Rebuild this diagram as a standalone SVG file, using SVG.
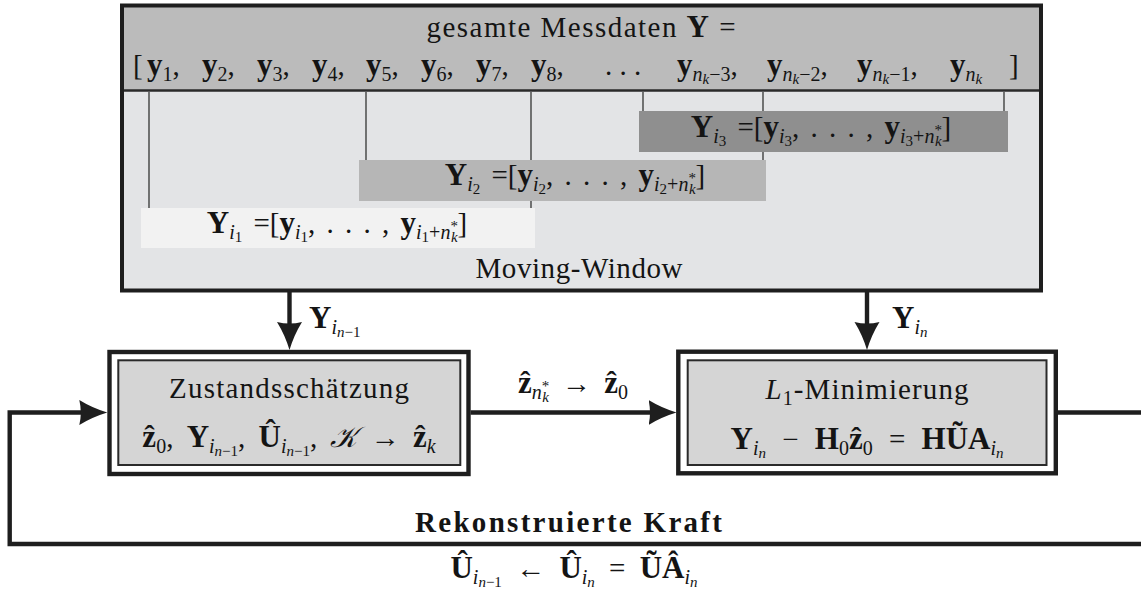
<svg xmlns="http://www.w3.org/2000/svg" width="1141" height="601" viewBox="0 0 1141 601">
<style>
.tx{font-family:"Liberation Serif","Times New Roman",serif;font-size:29px;fill:#141414}
.bf{font-weight:bold;font-size:31px}
.it{font-style:italic}
.sb{font-size:20px;baseline-shift:-6px}
.ss{font-size:15px;baseline-shift:-3px}
.sup{font-size:15px;baseline-shift:8px}
.ws4{word-spacing:4px}
.ws6{word-spacing:6px}
.frame{fill:none;stroke:#1e1e1e;stroke-width:4}
.tick{stroke:#333;stroke-width:1.3}
.outer{fill:#fff;stroke:#1e1e1e;stroke-width:4.4}
.inner{fill:#d5d5d5;stroke:#2a2a2a;stroke-width:2}
.conn{fill:none;stroke:#1e1e1e;stroke-width:4.4;stroke-linejoin:miter}
</style>
<defs>
<marker id="ah" markerUnits="userSpaceOnUse" markerWidth="30" markerHeight="28" viewBox="0 -14 30 28" refX="8" refY="0" orient="auto"><path d="M28,0 Q13,-4.5 0,-12.5 Q3,0 0,12.5 Q13,4.5 28,0Z" fill="#1e1e1e"/></marker>
</defs>

<g id="messdaten">
<rect x="122" y="5.5" width="919" height="285" fill="#e3e4e6"/>
<rect x="122" y="5.5" width="919" height="85" fill="#bbbbbb"/>
<line x1="122" y1="90.5" x2="1041" y2="90.5" stroke="#2a2a2a" stroke-width="2.5"/>
<line class="tick" x1="149" y1="92" x2="149" y2="208"/>
<line class="tick" x1="531" y1="92" x2="531" y2="208"/>
<line class="tick" x1="366" y1="92" x2="366" y2="160"/>
<line class="tick" x1="763" y1="92" x2="763" y2="160"/>
<line class="tick" x1="643" y1="92" x2="643" y2="111"/>
<line class="tick" x1="1004" y1="92" x2="1004" y2="111"/>
<rect x="639" y="111" width="369" height="41" fill="#8f8f8f"/>
<rect x="359" y="160" width="407" height="41" fill="#b6b6b6"/>
<rect x="141" y="208" width="394" height="40" fill="#f2f2f2"/>
<text class="tx" x="581" y="37" text-anchor="middle" textLength="309" lengthAdjust="spacing">gesamte Messdaten <tspan class="bf">Y</tspan> =</text>
<text class="tx" x="133" y="75">[</text>
<text class="tx" x="147" y="75"><tspan class="bf">y</tspan><tspan class="sb">1</tspan>,</text>
<text class="tx" x="202" y="75"><tspan class="bf">y</tspan><tspan class="sb">2</tspan>,</text>
<text class="tx" x="257" y="75"><tspan class="bf">y</tspan><tspan class="sb">3</tspan>,</text>
<text class="tx" x="312" y="75"><tspan class="bf">y</tspan><tspan class="sb">4</tspan>,</text>
<text class="tx" x="366" y="75"><tspan class="bf">y</tspan><tspan class="sb">5</tspan>,</text>
<text class="tx" x="421" y="75"><tspan class="bf">y</tspan><tspan class="sb">6</tspan>,</text>
<text class="tx" x="476" y="75"><tspan class="bf">y</tspan><tspan class="sb">7</tspan>,</text>
<text class="tx" x="531" y="75"><tspan class="bf">y</tspan><tspan class="sb">8</tspan>,</text>
<text class="tx" x="605" y="75">. . .</text>
<text class="tx" x="677" y="75"><tspan class="bf">y</tspan><tspan class="sb"><tspan class="it">n</tspan><tspan class="ss it">k</tspan>−3</tspan>,</text>
<text class="tx" x="767" y="75"><tspan class="bf">y</tspan><tspan class="sb"><tspan class="it">n</tspan><tspan class="ss it">k</tspan>−2</tspan>,</text>
<text class="tx" x="857" y="75"><tspan class="bf">y</tspan><tspan class="sb"><tspan class="it">n</tspan><tspan class="ss it">k</tspan>−1</tspan>,</text>
<text class="tx" x="950" y="75"><tspan class="bf">y</tspan><tspan class="sb"><tspan class="it">n</tspan><tspan class="ss it">k</tspan></tspan></text>
<text class="tx" x="1009" y="75">]</text>
<text class="tx ws4" x="821" y="137" text-anchor="middle"><tspan class="bf">Y</tspan><tspan class="sb"><tspan class="it">i</tspan><tspan class="ss">3</tspan></tspan> =[<tspan class="bf">y</tspan><tspan class="sb"><tspan class="it">i</tspan><tspan class="ss">3</tspan></tspan>, . . . , <tspan class="bf">y</tspan><tspan class="sb"><tspan class="it">i</tspan><tspan class="ss">3</tspan>+<tspan class="it">n</tspan><tspan class="sup">*</tspan><tspan class="ss it" dx="-7">k</tspan></tspan>]</text>
<text class="tx ws4" x="575" y="185" text-anchor="middle"><tspan class="bf">Y</tspan><tspan class="sb"><tspan class="it">i</tspan><tspan class="ss">2</tspan></tspan> =[<tspan class="bf">y</tspan><tspan class="sb"><tspan class="it">i</tspan><tspan class="ss">2</tspan></tspan>, . . . , <tspan class="bf">y</tspan><tspan class="sb"><tspan class="it">i</tspan><tspan class="ss">2</tspan>+<tspan class="it">n</tspan><tspan class="sup">*</tspan><tspan class="ss it" dx="-7">k</tspan></tspan>]</text>
<text class="tx ws4" x="337" y="233" text-anchor="middle"><tspan class="bf">Y</tspan><tspan class="sb"><tspan class="it">i</tspan><tspan class="ss">1</tspan></tspan> =[<tspan class="bf">y</tspan><tspan class="sb"><tspan class="it">i</tspan><tspan class="ss">1</tspan></tspan>, . . . , <tspan class="bf">y</tspan><tspan class="sb"><tspan class="it">i</tspan><tspan class="ss">1</tspan>+<tspan class="it">n</tspan><tspan class="sup">*</tspan><tspan class="ss it" dx="-7">k</tspan></tspan>]</text>
<text class="tx" x="579" y="278" text-anchor="middle" textLength="207" lengthAdjust="spacing">Moving-Window</text>
<rect class="frame" x="122" y="5.5" width="919" height="285"/>
</g>

<g id="zustand">
<rect class="outer" x="109.5" y="352" width="359" height="122"/>
<rect class="inner" x="118.3" y="360.3" width="342" height="104.7"/>
<text class="tx" x="289" y="398" text-anchor="middle" textLength="240" lengthAdjust="spacing">Zustandsschätzung</text>
<text class="tx ws6" x="289" y="447" text-anchor="middle"><tspan class="bf">ẑ</tspan><tspan class="sb">0</tspan>, <tspan class="bf">Y</tspan><tspan class="sb"><tspan class="it">i</tspan><tspan class="ss"><tspan class="it">n</tspan>−1</tspan></tspan>, <tspan class="bf">Û</tspan><tspan class="sb"><tspan class="it">i</tspan><tspan class="ss"><tspan class="it">n</tspan>−1</tspan></tspan>, <tspan class="it">𝒦</tspan> → <tspan class="bf">ẑ</tspan><tspan class="sb it">k</tspan></text>
</g>

<g id="l1min">
<rect class="outer" x="678.3" y="351.7" width="377.5" height="121.6"/>
<rect class="inner" x="687.7" y="360.3" width="358.8" height="104.7"/>
<text class="tx" x="867" y="399" text-anchor="middle" textLength="203" lengthAdjust="spacing"><tspan class="it">L</tspan><tspan class="sb">1</tspan>-Minimierung</text>
<text class="tx" x="867" y="449" text-anchor="middle" style="word-spacing:9px"><tspan class="bf">Y</tspan><tspan class="sb it">i<tspan class="ss">n</tspan></tspan> − <tspan class="bf">H</tspan><tspan class="sb">0</tspan><tspan class="bf">ẑ</tspan><tspan class="sb">0</tspan> = <tspan class="bf">HŨA</tspan><tspan class="sb it">i<tspan class="ss">n</tspan></tspan></text>
</g>

<g id="connectors">
<path class="conn" d="M289.5,290.5 V330" marker-end="url(#ah)"/>
<path class="conn" d="M867,290.5 V330" marker-end="url(#ah)"/>
<path class="conn" d="M470.5,412.5 H656.5" marker-end="url(#ah)"/>
<path class="conn" d="M1056,412.5 H1145"/>
<path class="conn" d="M1145,544 H9.7 V412.5 H87.3" marker-end="url(#ah)"/>
<text class="tx" x="309" y="328"><tspan class="bf">Y</tspan><tspan class="sb"><tspan class="it">i</tspan><tspan class="ss"><tspan class="it">n</tspan>−1</tspan></tspan></text>
<text class="tx" x="892" y="328"><tspan class="bf">Y</tspan><tspan class="sb it">i<tspan class="ss">n</tspan></tspan></text>
<text class="tx ws6" x="573" y="393" text-anchor="middle"><tspan class="bf">ẑ</tspan><tspan class="sb"><tspan class="it">n</tspan><tspan class="sup">*</tspan><tspan class="ss it" dx="-7">k</tspan></tspan> → <tspan class="bf">ẑ</tspan><tspan class="sb">0</tspan></text>
<text class="tx bf" x="568.5" y="532" text-anchor="middle" textLength="307" lengthAdjust="spacing" style="font-size:29px">Rekonstruierte Kraft</text>
<text class="tx" x="574" y="578" text-anchor="middle" style="word-spacing:7px"><tspan class="bf">Û</tspan><tspan class="sb"><tspan class="it">i</tspan><tspan class="ss"><tspan class="it">n</tspan>−1</tspan></tspan> ← <tspan class="bf">Û</tspan><tspan class="sb it">i<tspan class="ss">n</tspan></tspan> = <tspan class="bf">ŨÂ</tspan><tspan class="sb it">i<tspan class="ss">n</tspan></tspan></text>
</g>
</svg>
